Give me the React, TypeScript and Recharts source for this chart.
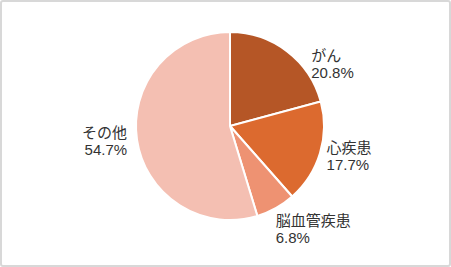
import { PieChart, Pie, Cell } from 'recharts'

const categories = ['がん', '心疾患', '脳血管疾患', 'その他']
const shares = [20.8, 17.7, 6.8, 54.7]

const COLORS = ['#b55626', '#dc6a2f', '#ee9272', '#f4bfb2']

// hand tweaks so labels sit where the original puts them
const LABEL_NUDGE: Record<string, [number, number]> = {
  'がん': [18, 21],
  '心疾患': [-3, 0],
  '脳血管疾患': [-5, 12],
}

const data = categories.map((name, i) => ({ name, value: shares[i] }))

const RADIAN = Math.PI / 180

function renderLabel(props: any) {
  const { cx, cy, midAngle, outerRadius, name, value } = props
  const r = outerRadius + 10
  const cos = Math.cos(-midAngle * RADIAN)
  const sin = Math.sin(-midAngle * RADIAN)
  const [nx, ny] = LABEL_NUDGE[name] ?? [0, 0]
  const x = cx + r * cos + nx
  const y = cy + r * sin + ny
  const anchor = cos >= 0 ? 'start' : 'end'
  return (
    <text
      x={x}
      y={y}
      fill="#333"
      fontSize={15}
      textAnchor={anchor}
      fontFamily='"Liberation Sans", "Noto Sans CJK JP", sans-serif'
    >
      <tspan x={x} y={y - 8.5} dominantBaseline="central">{name}</tspan>
      <tspan x={x} y={y + 8.5} dominantBaseline="central">{`${value.toFixed(1)}%`}</tspan>
    </text>
  )
}

export default function App() {
  return (
    <div style={{ position: 'absolute', left: 0, top: 0, width: 451, height: 267, background: '#fff' }}>
      <div
        style={{
          position: 'absolute',
          inset: 0,
          boxSizing: 'border-box',
          border: '2px solid #d8d8d8',
          borderRadius: 3,
        }}
      />
      <div style={{ position: 'absolute', left: 0, top: 0 }}>
        <PieChart width={451} height={267} margin={{ top: 0, right: 0, bottom: 0, left: 0 }}>
          <Pie
            data={data}
            dataKey="value"
            nameKey="name"
            cx={230}
            cy={126}
            outerRadius={94}
            startAngle={90}
            endAngle={-270}
            stroke="#fff"
            strokeWidth={2}
            label={renderLabel}
            labelLine={false}
            isAnimationActive={false}
          >
            {data.map((entry, index) => (
              <Cell key={`cell-${index}`} fill={COLORS[index % COLORS.length]} />
            ))}
          </Pie>
        </PieChart>
      </div>
    </div>
  )
}
